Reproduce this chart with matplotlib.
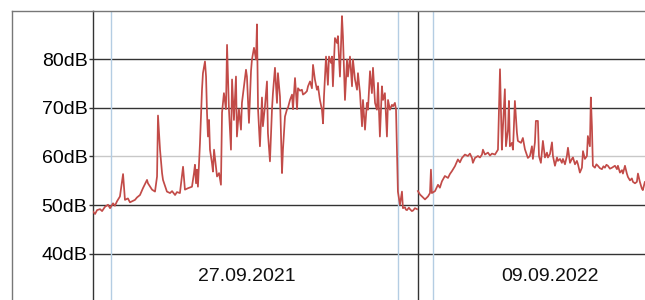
import matplotlib
matplotlib.use("Agg")
import matplotlib.pyplot as plt
from matplotlib.lines import Line2D

# ==========
# DATA
# ==========
# day 1 (27.09.2021): hour of day, level in dB
day1_hours = [
    0.00, 0.15, 0.30, 0.52, 0.67, 0.89, 1.11, 1.26, 1.48, 1.62, 1.77, 1.99, 2.22, 2.36, 2.58, 2.73, 2.88, 3.10,
    3.25, 3.47, 3.69, 3.99, 4.06, 4.36, 4.58, 4.73, 4.80, 4.95, 5.10, 5.17, 5.46, 5.69,
    5.84, 6.06, 6.20, 6.42, 6.65, 6.79, 7.02, 7.31, 7.46, 7.53, 7.61, 7.68, 7.75, 7.90, 8.05,
    8.12, 8.27, 8.35, 8.42, 8.49, 8.57, 8.64, 8.79, 8.86, 8.94, 9.08, 9.16, 9.31,
    9.45, 9.53, 9.67, 9.82, 9.90, 10.04, 10.19, 10.27, 10.41, 10.56, 10.63, 10.78,
    10.93, 11.00, 11.15, 11.30, 11.37, 11.52, 11.67, 11.74, 11.89, 12.04, 12.11,
    12.19, 12.33, 12.48, 12.55, 12.70, 12.85, 12.92, 13.07, 13.22, 13.29, 13.44,
    13.59, 13.66, 13.81, 13.96, 14.03, 14.18, 14.33, 14.40, 14.55, 14.70, 14.77,
    14.92, 15.07, 15.14, 15.29, 15.43, 15.51, 15.66, 15.80, 15.88, 16.03, 16.17,
    16.25, 16.39, 16.54, 16.62, 16.76, 16.91, 16.99, 17.06, 17.21, 17.35, 17.43,
    17.58, 17.65, 17.72, 17.87, 18.02, 18.09, 18.24, 18.39, 18.46, 18.61, 18.76,
    18.83, 18.98, 19.13, 19.20, 19.35, 19.50, 19.57, 19.72, 19.87, 19.94, 20.09,
    20.23, 20.31, 20.46, 20.60, 20.68, 20.83, 20.97, 21.05, 21.19, 21.34, 21.42,
    21.56, 21.71, 21.79, 21.93, 22.08, 22.16, 22.30, 22.38, 22.45, 22.52, 22.67,
    22.82, 22.89, 23.04, 23.11, 23.19, 23.33, 23.41, 23.55, 23.63, 23.78, 23.93,
]
day1_db = [
    48.7, 48.2, 49.0, 49.2, 48.8, 49.7, 50.1, 49.4, 50.4, 49.9, 50.8, 51.8, 56.4, 51.1, 51.4, 50.6, 50.8, 51.1,
    51.6, 52.1, 53.5, 55.2, 54.5, 53.2, 52.8, 55.9, 68.4, 61.4, 56.6, 55.2, 52.8, 52.5,
    52.9, 52.1, 52.7, 52.5, 57.9, 53.2, 53.5, 53.8, 56.6, 58.3, 54.5, 57.3, 53.8, 62.7, 73.7,
    77.1, 79.5, 76.4, 69.0, 64.1, 67.5, 61.4, 58.6, 56.9, 61.4, 58.0, 55.9, 56.6,
    54.2, 69.0, 73.0, 69.7, 82.9, 69.7, 61.4, 75.8, 67.5, 76.4, 64.1, 69.7,
    65.5, 71.0, 74.4, 77.8, 76.4, 66.9, 77.5, 79.9, 82.3, 79.9, 87.1,
    69.7, 62.1, 72.1, 66.2, 70.3, 75.4, 64.8, 59.0, 69.7, 73.0, 78.2,
    71.0, 77.1, 72.3, 56.6, 61.4, 68.2, 69.7, 70.0, 71.6, 72.7, 69.7,
    76.1, 69.7, 74.0, 73.5, 73.7, 72.7, 73.0, 73.4, 74.4, 75.4, 74.0,
    78.8, 75.8, 73.7, 74.4, 71.6, 69.6, 66.8, 72.3, 80.5, 74.7, 80.5,
    79.2, 80.5, 74.4, 84.3, 83.3, 84.7, 76.4, 88.8, 84.7, 71.6, 79.9,
    76.4, 80.5, 74.4, 79.9, 75.8, 73.7, 77.1, 73.0, 66.2, 71.6, 65.5,
    71.0, 69.6, 77.5, 73.0, 78.2, 71.0, 69.6, 75.1, 64.1, 74.4, 71.6,
    73.0, 64.1, 71.6, 69.6, 70.6, 70.3, 71.0, 69.6, 60.7, 52.8, 50.1,
    52.8, 49.4, 49.6, 49.1, 49.0, 49.5, 49.2, 48.8, 48.9, 49.4, 49.2,
]

# day 2 (09.09.2022): hour of day, level in dB
day2_hours = [
    0.00, 0.15, 0.30, 0.52, 0.74, 0.89, 0.96, 1.03, 1.26, 1.48, 1.62, 1.77, 1.99, 2.22, 2.36, 2.51,
    2.73, 2.95, 3.10, 3.25, 3.47, 3.69, 3.84, 3.99, 4.06, 4.21, 4.43, 4.58, 4.73, 4.80, 4.95, 5.17,
    5.32, 5.47, 5.69, 5.91, 6.06, 6.20, 6.28, 6.42, 6.50, 6.65, 6.72, 6.79, 6.94, 7.02,
    7.16, 7.31, 7.38, 7.61, 7.75, 7.90, 8.12, 8.27, 8.42, 8.49, 8.64, 8.71, 8.86,
    8.94, 9.08, 9.23, 9.38, 9.53, 9.60, 9.75, 9.90, 9.97, 10.12, 10.27, 10.34,
    10.49, 10.63, 10.71, 10.86, 11.00, 11.08, 11.23, 11.37, 11.45, 11.60, 11.74,
    11.82, 11.96, 12.11, 12.19, 12.33, 12.48, 12.55, 12.70, 12.77, 12.85, 12.92,
    13.07, 13.18, 13.29, 13.44, 13.59, 13.70, 13.81, 13.92, 14.03, 14.18, 14.33, 14.55, 14.70, 14.77, 14.92, 15.07,
    15.14, 15.29, 15.43, 15.51, 15.66, 15.80, 15.88, 16.03, 16.17, 16.25, 16.39,
    16.54, 16.61, 16.76, 16.98,
]
day2_db = [
    52.9, 52.2, 51.8, 51.2, 51.8, 52.5, 57.3, 52.5, 52.9, 54.2, 53.6, 54.9, 56.0, 55.6, 56.4, 57.0,
    58.0, 59.4, 58.8, 59.7, 60.4, 60.1, 60.6, 59.7, 58.7, 59.7, 60.1, 59.8, 60.4, 61.4, 60.4, 60.8,
    60.2, 60.6, 60.4, 61.4, 77.9, 61.4, 66.2, 73.8, 62.1, 65.5, 71.4, 62.1, 62.8, 61.4,
    71.4, 64.9, 63.2, 62.8, 63.8, 61.5, 59.7, 60.1, 62.1, 59.5, 62.9, 67.3, 67.3,
    60.1, 58.7, 63.2, 59.8, 60.8, 59.8, 60.5, 62.9, 60.1, 58.1, 59.8, 59.1,
    59.5, 58.7, 59.5, 58.4, 60.1, 61.8, 58.7, 59.5, 59.8, 58.4, 59.1,
    58.4, 56.7, 57.7, 61.1, 59.5, 60.1, 64.2, 62.1, 72.1, 66.2, 58.1,
    57.7, 58.4, 58.1, 57.6, 57.4, 58.0, 57.7, 58.3, 58.1, 57.5, 57.7, 58.1, 57.4, 58.1, 56.7, 57.2,
    56.5, 58.1, 56.5, 55.8, 55.1, 55.5, 54.8, 54.5, 54.8, 56.5, 54.8,
    53.4, 53.1, 54.8, 54.0,
]

day_labels = ["27.09.2021", "09.09.2022"]
label_hours = [11.34, 33.75]          # where the date captions sit
marker_hours = [1.33, 22.52, 25.11]    # thin blue markers
y_ticks = [40, 50, 60, 70, 80]

# ==========
# STYLE
# ==========
LINE_COLOR = "#c24b48"
DARK = "#333333"
FRAME = "#777777"
BLUE = "#b4cde3"
FONT = "Liberation Sans"
W, H = 645, 300

fig = plt.figure(figsize=(W / 100, H / 100), dpi=100)
ax = fig.add_axes([93 / W, 0, (W - 93) / W, 1 - 11 / H])
ax.set_xlim(0, 40.77)
ax.set_ylim(30.56, 89.85)

for s in ["right", "bottom"]:
    ax.spines[s].set_visible(False)
ax.spines["left"].set_color(DARK)
ax.spines["left"].set_linewidth(1.0)
ax.spines["top"].set_color(FRAME)
ax.spines["top"].set_linewidth(1.0)

# horizontal grid
for v in y_ticks:
    col = "#c8c8c8" if v == 60 else DARK
    ax.axhline(v, color=col, linewidth=1.0, zorder=1)

# blue markers and day separator
for h in marker_hours:
    ax.axvline(h, color=BLUE, linewidth=1.0, zorder=1)
ax.axvline(24, color=DARK, linewidth=1.0, zorder=1)

ax.plot(day1_hours, day1_db, color=LINE_COLOR, linewidth=1.25, zorder=3)
ax.plot([24 + h for h in day2_hours], day2_db, color=LINE_COLOR, linewidth=1.25, zorder=3)

ax.set_yticks(y_ticks)
ax.set_yticklabels([f"{v}dB" for v in y_ticks], fontsize=14, family=FONT)
ax.tick_params(axis="y", length=3, width=1.0, color=DARK, pad=1)
ax.set_xticks([])

for lbl, h in zip(day_labels, label_hours):
    ax.text(h, 35.3, lbl, ha="center", va="center", fontsize=14, family=FONT, color="#111111")

# outer frame edge on the left
fig.add_artist(Line2D([12 / W, 12 / W], [0, 1 - 11 / H], color=FRAME, linewidth=1.0))
fig.add_artist(Line2D([12 / W, 93 / W], [1 - 11 / H, 1 - 11 / H], color=FRAME, linewidth=1.0))

fig.savefig("out.png", dpi=100)
